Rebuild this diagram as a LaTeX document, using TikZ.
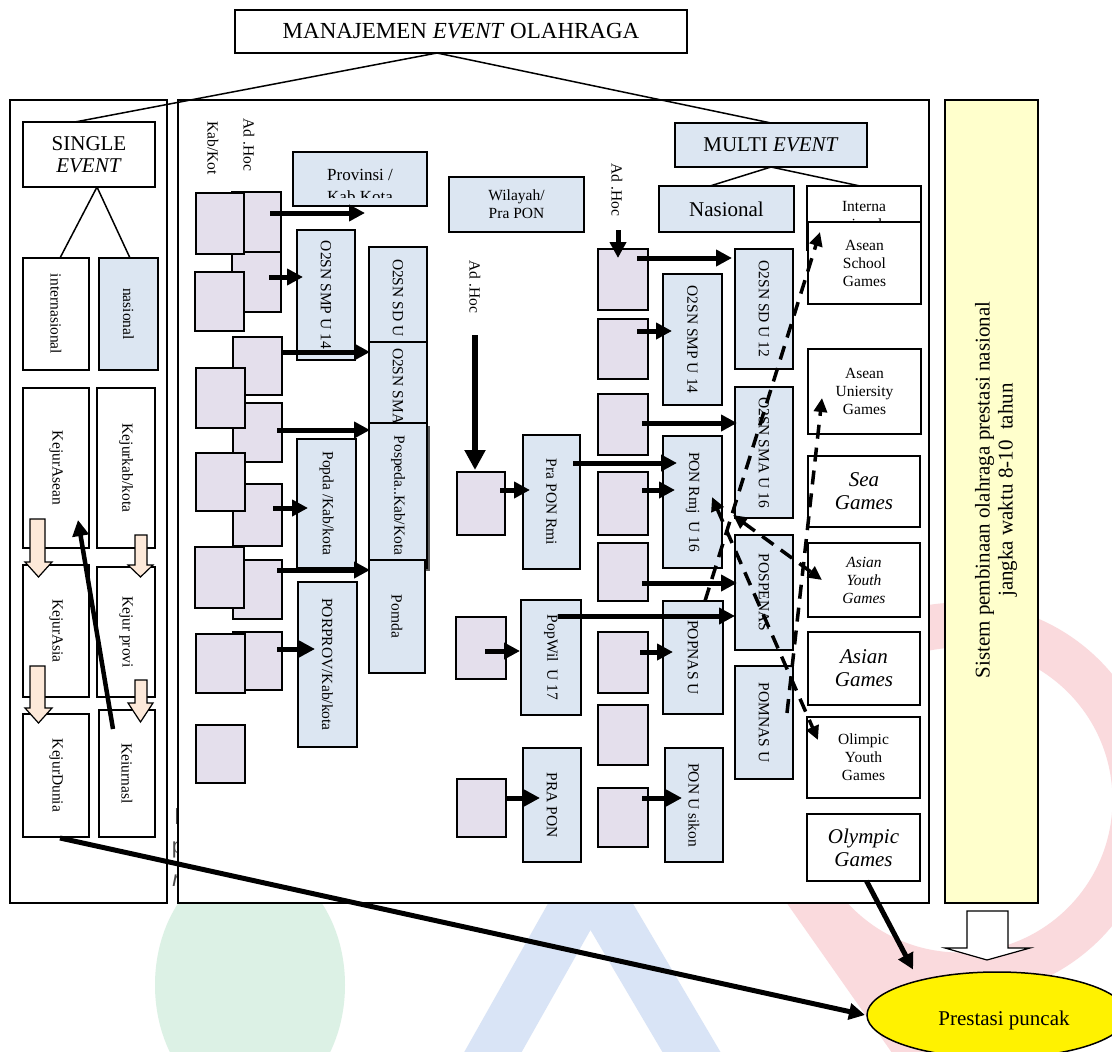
\documentclass[tikz,border=0pt]{standalone}
\usepackage{fontspec}
\setmainfont{Liberation Serif}
\newfontfamily\wmsans{Liberation Sans}
\usetikzlibrary{arrows.meta,shapes.geometric}
\definecolor{lav}{HTML}{E4DFEC}
\definecolor{lblue}{HTML}{DCE6F2}
\definecolor{pyel}{HTML}{FFFFCC}
\definecolor{peach}{HTML}{FDE9D9}
\definecolor{wmgreen}{HTML}{DCF1E5}
\definecolor{wmblue}{HTML}{D9E4F6}
\definecolor{wmpink}{HTML}{FADADD}
\newcommand\smallfnt{\fontsize{15.5}{18}\selectfont}
\newcommand\midfnt{\fontsize{17}{20}\selectfont}
\newcommand\bigfnt{\fontsize{21}{23}\selectfont}
\newcommand\mkbox[6]{\node[#1, minimum width={(#4)-(#2)}, minimum height={(#5)-(#3)}] (#6) at ({((#2)+(#4))/2},{((#3)+(#5))/2})}
\newcommand\blkarr[8]{\draw[line width=1.2pt, fill=#8] (#1,#3) -- (#2,#3) -- (#2,#4) -- (#6,#4) -- ({((#5)+(#6))/2},#7) -- (#5,#4) -- (#1,#4) -- cycle;}
\begin{document}
\begin{tikzpicture}[x=1pt,y=-1pt,
  every node/.style={inner sep=0pt, outer sep=0pt, align=center},
  bx/.style={draw, line width=1.5pt},
  sqr/.style={bx, fill=lav},
  blb/.style={bx, fill=lblue, font=\smallfnt},
  wbx/.style={bx, fill=white, font=\smallfnt},
  fsm/.style={font=\smallfnt},
  harrow/.style={line width=5pt, -{Triangle[length=16pt,width=16pt]}},
  dasharr/.style={line width=3.5pt, dash pattern=on 14pt off 9pt}
]
\useasboundingbox (0,0) rectangle (1112,1052);
\fill[white] (0,0) rectangle (1112,1052);
% faint watermark
\fill[wmgreen] (250,985) ellipse [x radius=95, y radius=125];
\draw[wmblue, line width=50pt] (480,1075) -- (590,880) -- (705,1075);
\draw[wmpink, line width=40pt] (795,880) -- (925,1065);
\draw[wmpink, line width=45pt] (960,800) circle (175);
% stray glyphs
\node[font=\wmsans\fontsize{22}{24}\selectfont, text=black!70, anchor=base] (s1) at (177,824) {l};
\node[font=\wmsans\fontsize{22}{24}\selectfont, text=black!70, anchor=base] (s2) at (178,853) {p};
\node[font=\wmsans\fontsize{22}{24}\selectfont\itshape, text=black!70, anchor=base] (s3) at (176,886) {r};
% panels
\mkbox{bx, fill=white}{10}{100}{167}{903}{lpanel}{};
\mkbox{bx, fill=white}{178}{100}{929}{903}{mpanel}{};
\mkbox{bx, fill=pyel}{945}{100}{1038}{903}{ypanel}{};
\node[font=\bigfnt, rotate=90] (ytext) at (996,490) {Sistem pembinaan olahraga prestasi nasional\\jangka waktu 8-10\ \ tahun};
% title
\mkbox{bx, fill=white, font=\fontsize{23}{25}\selectfont}{235}{10}{687}{53}{title}{MANAJEMEN \textit{EVENT} OLAHRAGA};
% single event side
\mkbox{wbx, font=\fontsize{21}{22}\selectfont}{23}{122}{155}{187}{single}{SINGLE\\\textit{EVENT}};
\mkbox{bx, fill=lblue, font=\bigfnt}{675}{123}{867}{167}{multi}{MULTI \textit{EVENT}};
\draw[line width=1.5pt] ([xshift=-24pt]title.south) -- ([xshift=-14pt]single.north);
\draw[line width=1.5pt] ([xshift=-24pt]title.south) -- (multi.north);
\mkbox{wbx}{23}{258}{89}{370}{intl}{\rotatebox{-90}{internasional}};
\mkbox{blb}{99}{258}{158}{370}{nas}{\rotatebox{-90}{nasional}};
\draw[line width=1.5pt] ([xshift=8pt]single.south) -- ([xshift=4pt]intl.north);
\draw[line width=1.5pt] ([xshift=8pt]single.south) -- ([xshift=1.5pt]nas.north);
\mkbox{wbx}{23}{388}{89}{548}{kasean}{\rotatebox{-90}{KejurAsean}};
\mkbox{wbx}{97}{388}{155}{548}{kkab}{\rotatebox{-90}{Kejurkab/kota}};
\mkbox{wbx}{23}{565}{89}{697}{kasia}{\rotatebox{-90}{KejurAsia}};
\mkbox{wbx}{97}{567}{155}{697}{kprov}{\rotatebox{-90}{Kejur provi}};
\mkbox{wbx}{23}{714}{89}{837}{kdunia}{\rotatebox{-90}{KejurDunia}};
\mkbox{wbx}{99}{710}{155}{837}{knas}{\rotatebox{-90}{Keiurnasl}};
\blkarr{30}{45}{519}{562}{25}{52}{577}{peach}
\blkarr{135}{147}{535}{565}{128}{153}{577}{peach}
\blkarr{30}{45}{666}{708}{25}{52}{723}{peach}
\blkarr{135}{147}{680}{703}{128}{153}{722}{peach}
\draw[harrow, line width=4.5pt] ([shift={(-14,19)}]knas.north) -- ([shift={(22,-28)}]kasean.south);
% left part of middle panel
\node[fsm, rotate=-90] (kabkot) at (213,148) {Kab/Kot};
\node[fsm, rotate=-90] (adhoc1) at (249,145) {Ad .Hoc};
\mkbox{sqr}{232}{192}{281}{253}{b1}{};
\mkbox{sqr}{232}{252}{281}{312}{b2}{};
\mkbox{sqr}{196}{193}{244}{254}{a1}{};
\mkbox{sqr}{195}{272}{244}{331}{a2}{};
\mkbox{sqr}{233}{337}{282}{395}{b3}{};
\mkbox{sqr}{233}{403}{282}{462}{b4}{};
\mkbox{sqr}{196}{368}{245}{428}{a3}{};
\mkbox{sqr}{233}{484}{282}{546}{b5}{};
\mkbox{sqr}{196}{453}{245}{511}{a4}{};
\mkbox{sqr}{233}{560}{282}{619}{b6}{};
\mkbox{sqr}{195}{547}{244}{608}{a5}{};
\mkbox{sqr}{233}{632}{282}{690}{b7}{};
\mkbox{sqr}{196}{634}{245}{693}{a6}{};
\mkbox{sqr}{196}{725}{245}{783}{a7}{};
\mkbox{blb}{293}{152}{427}{206}{prov}{};
\begin{scope}
\clip (295,154) rectangle (425,197);
\node[font=\midfnt, anchor=base] (provt1) at (360,180) {Provinsi /};
\node[font=\midfnt, anchor=base] (provt2) at (360,202) {Kab Kota};
\end{scope}
\mkbox{blb}{297}{230}{355}{360}{smpL}{\rotatebox{-90}{O2SN SMP U 14}};
\mkbox{blb}{369}{247}{427}{342}{sdL}{};
\node[fsm, rotate=-90, anchor=west] (sdLt) at (398,259) {O2SN SD U 12};
\mkbox{blb}{369}{342}{427}{423}{smaL}{};
\node[fsm, rotate=-90, anchor=west] (smaLt) at (398,348) {O2SN SMA U 16};
\fill[black!65] (372,426) rectangle (430,571);
\mkbox{blb}{369}{423}{427}{568}{pospeda}{\rotatebox{-90}{Pospeda..Kab/Kota}};
\mkbox{blb}{297}{439}{356}{568}{popda}{\rotatebox{-90}{Popda /Kab/kota}};
\mkbox{blb}{369}{560}{425}{673}{pomda}{\rotatebox{-90}{Pomda}};
\mkbox{blb}{298}{582}{357}{747}{porprov}{\rotatebox{-90}{PORPROV/Kab/kota}};
\draw[harrow] ([shift={(13.5,-9.5)}]b1.center) -- ([shift={(5,34)}]prov.center);
\draw[harrow] ([shift={(12.5,-5)}]b2.center) -- ([shift={(-23,-18)}]smpL.center);
\draw[harrow] ([shift={(24.5,-14)}]b3.center) -- ([shift={(-28,-30.5)}]smaL.center);
\draw[harrow] ([shift={(19.5,-2.5)}]b4.center) -- ([shift={(-28,-65.5)}]pospeda.center);
\draw[harrow] ([shift={(15.5,-7)}]b5.center) -- ([shift={(-18.5,4.5)}]popda.center);
\draw[harrow] ([shift={(19.5,-19.5)}]b6.center) -- ([shift={(-27,-46.5)}]pomda.center);
\draw[harrow] ([shift={(19.5,-12)}]b7.center) -- ([shift={(-12.5,-15.5)}]porprov.center);
% centre column
\mkbox{blb}{449}{177}{584}{232}{wil}{Wilayah/\\Pra PON};
\node[fsm, rotate=-90] (adhoc2) at (475,287) {Ad .Hoc};
\mkbox{sqr}{457}{472}{505}{535}{c1}{};
\mkbox{sqr}{456}{617}{506}{679}{c2}{};
\mkbox{sqr}{457}{779}{506}{837}{c3}{};
\mkbox{blb}{523}{435}{580}{569}{prarmi}{\rotatebox{-90}{Pra PON Rmi}};
\mkbox{blb}{521}{600}{581}{715}{popwil}{\rotatebox{-90}{PopWil\ \ U 17}};
\mkbox{blb}{523}{748}{581}{862}{prapon}{\rotatebox{-90}{PRA PON}};
\draw[line width=6pt, -{Triangle[length=20pt,width=20pt]}] ([shift={(0,48)}]adhoc2.center) -- ([shift={(-6,-33.5)}]c1.center);
% right-centre column
\node[fsm, rotate=-90] (adhoc3) at (617,190) {Ad .Hoc};
\mkbox{sqr}{598}{249}{648}{310}{d1}{};
\mkbox{sqr}{598}{319}{648}{379}{d2}{};
\mkbox{sqr}{598}{394}{648}{455}{d3}{};
\mkbox{sqr}{598}{472}{648}{535}{d4}{};
\mkbox{sqr}{598}{543}{648}{601}{d5}{};
\mkbox{sqr}{598}{632}{648}{693}{d6}{};
\mkbox{sqr}{598}{705}{648}{765}{d7}{};
\mkbox{sqr}{598}{788}{648}{847}{d8}{};
\mkbox{bx, fill=lblue, font=\bigfnt}{659}{186}{794}{232}{nasional}{Nasional};
\mkbox{wbx}{807}{186}{921}{250}{interna}{};
\node[fsm, anchor=base] (internat1) at (864,211) {Interna};
\node[fsm, anchor=base] (internat2) at (864,229) {sional};
\draw[line width=1.5pt] (multi.south) -- ([xshift=-16.5pt]nasional.north);
\draw[line width=1.5pt] (multi.south) -- ([xshift=-4pt]interna.north);
\mkbox{blb}{663}{274}{722}{405}{smp14}{\rotatebox{-90}{O2SN SMP U 14}};
\mkbox{blb}{735}{249}{793}{369}{sd12}{\rotatebox{-90}{O2SN SD U 12}};
\mkbox{blb}{735}{387}{793}{518}{sma16}{\rotatebox{-90}{O2SN SMA U 16}};
\mkbox{blb}{663}{436}{722}{568}{ponrmj}{\rotatebox{-90}{PON Rmj\ \ U 16}};
\mkbox{blb}{735}{535}{793}{650}{pospenas}{\rotatebox{-90}{POSPENAS}};
\mkbox{blb}{663}{601}{723}{714}{popnas}{\rotatebox{-90}{POPNAS U}};
\mkbox{blb}{735}{666}{793}{779}{pomnas}{\rotatebox{-90}{POMNAS U}};
\mkbox{blb}{665}{748}{723}{862}{ponsikon}{\rotatebox{-90}{PON U sikon}};
% international boxes
\mkbox{wbx}{808}{222}{921}{304}{asg}{Asean\\School\\Games};
\mkbox{wbx}{808}{349}{921}{434}{aug}{Asean\\Uniersity\\Games};
\mkbox{bx, fill=white, font=\bigfnt\itshape}{808}{456}{920}{527}{sea}{Sea\\Games};
\mkbox{bx, fill=white, font=\smallfnt\itshape}{808}{543}{920}{617}{ayg}{Asian\\Youth\\Games};
\mkbox{bx, fill=white, font=\bigfnt\itshape}{808}{632}{920}{705}{ag}{Asian\\Games};
\mkbox{wbx}{807}{717}{920}{798}{oyg}{Olimpic\\Youth\\Games};
\mkbox{bx, fill=white, font=\bigfnt\itshape}{807}{814}{920}{881}{og}{Olympic\\Games};
% solid arrows centre
\draw[harrow] ([shift={(19,-13.5)}]c1.center) -- ([shift={(-21.5,-12)}]prarmi.center);
\draw[harrow] ([shift={(21.5,-39)}]prarmi.center) -- ([shift={(-15.5,-39)}]ponrmj.center);
\draw[harrow] ([shift={(4,3)}]c2.center) -- ([shift={(-31,-6.5)}]popwil.center);
\draw[harrow] ([shift={(7,-41.5)}]popwil.center) -- ([shift={(-29,23.5)}]pospenas.center);
\draw[harrow] ([shift={(24.5,-10)}]c3.center) -- ([shift={(-12,-7)}]prapon.center);
\draw[harrow] ([shift={(1,40)}]adhoc3.center) -- ([shift={(-5,-21.5)}]d1.center);
\draw[harrow] ([shift={(14,-21.5)}]d1.center) -- ([shift={(-32,-51)}]sd12.center);
\draw[harrow] ([shift={(14,-18)}]d2.center) -- ([shift={(-20.5,-8.5)}]smp14.center);
\draw[harrow] ([shift={(19,-1.5)}]d3.center) -- ([shift={(-27,-29.5)}]sma16.center);
\draw[harrow] ([shift={(19,-13.5)}]d4.center) -- ([shift={(-17.5,-12)}]ponrmj.center);
\draw[harrow] ([shift={(19,11)}]d5.center) -- ([shift={(-27,-9.5)}]pospenas.center);
\draw[harrow] ([shift={(17,-10.5)}]d6.center) -- ([shift={(-20,-5.5)}]popnas.center);
\draw[harrow] ([shift={(19,-19.5)}]d8.center) -- ([shift={(-12,-7)}]ponsikon.center);
% dashed arrows
\draw[dasharr, -{Triangle[length=14pt,width=13pt]}] ([xshift=12pt]popnas.north) -- ([shift={(12,10)}]asg.north west);
\draw[dasharr, -{Triangle[length=14pt,width=13pt]}] ([shift={(23,-9.5)}]pomnas.center) -- ([shift={(14,6.5)}]aug.west);
\draw[dasharr, {Triangle[length=14pt,width=13pt]}-{Triangle[length=14pt,width=13pt]}] ([shift={(-2,-3)}]sma16.south west) -- ([xshift=14pt]ayg.west);
\draw[dasharr, {Triangle[length=14pt,width=13pt]}-{Triangle[length=14pt,width=13pt]}] ([shift={(-10,61)}]ponrmj.north east) -- ([shift={(11,23)}]oyg.north west);
% bottom
\node[draw, line width=1.5pt, fill=yellow, ellipse, minimum width=260, minimum height=86] (puncak) at (997,1015) {};
\node[font=\bigfnt] (puncakt) at (1004,1020) {Prestasi puncak};
\draw[line width=1.2pt, fill=white] (967,911) -- (1008,911) -- (1008,948) -- (1030,948) -- (987,960) -- (945,948) -- (967,948) -- cycle;
\draw[harrow] ([shift={(3,0)}]og.south) -- ([shift={(8,-15)}]puncak.north west);
\draw[harrow] ([shift={(4,1)}]kdunia.south) -- ([xshift=-2pt]puncak.west);
\end{tikzpicture}
\end{document}
